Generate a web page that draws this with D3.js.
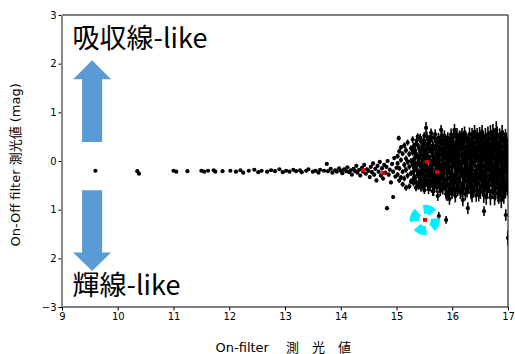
<!DOCTYPE html>
<html>
<head>
<meta charset="utf-8">
<script src="https://cdn.jsdelivr.net/npm/d3@7"></script>
<style>
  body { margin: 0; background: #fff; }
  .tick text { font-family: "DejaVu Sans", sans-serif; font-size: 10px; fill: #000; }
</style>
</head>
<body>
<div id="chart"></div>
<script>
// axis ticks
const xTicks = [9, 10, 11, 12, 13, 14, 15, 16, 17];
const yTicks = [-3, -2, -1, 0, 1, 2, 3];
const yTickLabels = ["\u22123", "2", "1", "0", "1", "2", "3"];

// [on-filter mag, on-off diff, error]
const brightStars = [
  [9.60, -0.20, 0.01], [10.35, -0.21, 0.01], [10.38, -0.26, 0.01], [11.00, -0.20, 0.01],
  [11.05, -0.22, 0.01], [11.25, -0.21, 0.01], [11.50, -0.20, 0.01], [11.55, -0.22, 0.01],
  [11.62, -0.20, 0.01], [11.72, -0.19, 0.01], [11.75, -0.22, 0.01], [11.88, -0.21, 0.01],
  [12.02, -0.20, 0.01], [12.12, -0.22, 0.01], [12.20, -0.19, 0.01], [12.25, -0.24, 0.01],
  [12.35, -0.20, 0.01], [12.45, -0.18, 0.01], [12.52, -0.23, 0.01], [12.58, -0.20, 0.01],
  [12.68, -0.22, 0.01], [12.75, -0.19, 0.01], [12.82, -0.21, 0.01], [12.90, -0.17, 0.01],
  [12.96, -0.23, 0.01]
];

const midStars = [
  [13.02, -0.20, 0.02], [13.08, -0.22, 0.02], [13.15, -0.18, 0.02], [13.20, -0.21, 0.02],
  [13.27, -0.19, 0.02], [13.30, -0.23, 0.02], [13.38, -0.20, 0.02], [13.42, -0.17, 0.02],
  [13.50, -0.22, 0.02], [13.55, -0.20, 0.02], [13.60, -0.24, 0.02], [13.63, -0.18, 0.02],
  [13.70, -0.20, 0.02], [13.75, -0.06, 0.02], [13.77, -0.21, 0.02], [13.82, -0.16, 0.02],
  [13.85, -0.24, 0.02], [13.90, -0.19, 0.02], [13.93, -0.22, 0.02], [13.97, -0.15, 0.02],
  [14.00, -0.20, 0.03], [14.03, -0.25, 0.03], [14.06, -0.17, 0.03], [14.10, -0.21, 0.03],
  [14.12, -0.13, 0.03], [14.15, -0.23, 0.03], [14.18, -0.19, 0.03], [14.20, -0.28, 0.03],
  [14.23, -0.16, 0.03], [14.26, -0.21, 0.03], [14.28, -0.10, 0.03], [14.30, -0.24, 0.03],
  [14.33, -0.18, 0.03], [14.35, -0.30, 0.03], [14.38, -0.14, 0.03], [14.40, -0.22, 0.03],
  [14.42, -0.08, 0.03], [14.45, -0.26, 0.03], [14.47, -0.17, 0.03], [14.50, -0.20, 0.04],
  [14.52, -0.33, 0.04], [14.54, -0.12, 0.04], [14.56, -0.23, 0.04], [14.58, -0.05, 0.04],
  [14.60, -0.28, 0.04], [14.62, -0.16, 0.04], [14.64, -0.40, 0.04], [14.66, -0.10, 0.04],
  [14.68, -0.22, 0.04], [14.70, -0.02, 0.04], [14.72, -0.30, 0.04], [14.74, -0.15, 0.04],
  [14.76, -0.36, 0.04], [14.78, -0.08, 0.04], [14.80, -0.24, 0.04], [14.82, -0.12, 0.04],
  [14.83, -0.97, 0.04], [14.84, 0.00, 0.04], [14.86, -0.28, 0.04], [14.88, -0.18, 0.04],
  [14.90, -0.44, 0.04], [14.92, -0.06, 0.04], [14.94, -0.22, 0.04], [14.94, -0.74, 0.04],
  [14.96, 0.06, 0.04], [14.98, -0.32, 0.04], [15.00, -0.14, 0.04]
];

const faintStars = [
  [15.02, 0.10, 0.05], [15.02, -0.28, 0.05], [15.02, -0.05, 0.05], [15.04, 0.47, 0.05],
  [15.05, 0.20, 0.05], [15.05, -0.15, 0.05], [15.05, -0.40, 0.05],
  [15.08, 0.02, 0.05], [15.08, -0.34, 0.05], [15.08, 0.28, 0.05],
  [15.11, 0.15, 0.05], [15.11, -0.22, 0.05], [15.11, -0.48, 0.05],
  [15.14, -0.08, 0.06], [15.14, 0.32, 0.06], [15.14, -0.36, 0.06],
  [15.17, 0.05, 0.06], [15.17, -0.18, 0.06], [15.17, 0.22, 0.06], [15.17, -0.55, 0.06],
  [15.20, 0.38, 0.06], [15.20, -0.30, 0.06], [15.20, -0.02, 0.06],
  [15.23, -0.12, 0.06], [15.23, 0.14, 0.06], [15.23, -0.52, 0.06],
  [15.26, 0.26, 0.06], [15.26, -0.25, 0.06], [15.26, 0.00, 0.06], [15.26, -0.42, 0.06],
  [15.29, 0.44, 0.07], [15.29, -0.08, 0.07], [15.29, -0.40, 0.07], [15.29, 0.18, 0.07],
  [15.32, 0.18, 0.07], [15.32, -0.32, 0.07], [15.32, 0.05, 0.07], [15.32, -0.15, 0.07],
  [15.35, 0.35, 0.07], [15.35, -0.15, 0.07], [15.35, -0.55, 0.07], [15.35, 0.10, 0.07],
  [15.38, 0.08, 0.07], [15.38, -0.28, 0.07], [15.38, 0.50, 0.07], [15.38, -0.05, 0.07],
  [15.41, 0.25, 0.08], [15.41, -0.05, 0.08], [15.41, -0.45, 0.08], [15.41, 0.05, 0.08], [15.41, -0.25, 0.08],
  [15.44, 0.40, 0.08], [15.44, -0.20, 0.08], [15.44, 0.12, 0.08], [15.44, -0.55, 0.08],
  [15.47, 0.02, 0.08], [15.47, -0.38, 0.08], [15.47, 0.30, 0.08], [15.47, -0.15, 0.08],
  [15.50, 0.52, 0.08], [15.50, -0.12, 0.08], [15.50, -0.60, 0.08], [15.50, 0.20, 0.08], [15.50, -0.35, 0.08],
  [15.53, 0.68, 0.12], [15.53, 0.18, 0.09], [15.53, -0.30, 0.09], [15.53, -0.05, 0.09],
  [15.56, 0.10, 0.09], [15.56, -0.50, 0.09], [15.56, 0.35, 0.09], [15.56, -0.20, 0.09],
  [15.59, 0.45, 0.09], [15.59, -0.18, 0.09], [15.59, -0.02, 0.09], [15.59, -0.42, 0.09], [15.59, 0.25, 0.09],
  [15.62, 0.22, 0.09], [15.62, -0.40, 0.09], [15.62, 0.58, 0.09], [15.62, -0.10, 0.09],
  [15.65, -0.08, 0.10], [15.65, 0.32, 0.10], [15.65, -0.62, 0.10], [15.65, 0.10, 0.10], [15.65, -0.30, 0.10],
  [15.68, 0.48, 0.10], [15.68, 0.05, 0.10], [15.68, -0.28, 0.10], [15.68, -0.50, 0.10],
  [15.71, 0.15, 0.10], [15.71, -0.45, 0.10], [15.71, 0.40, 0.10], [15.71, -0.15, 0.10],
  [15.74, 0.38, 0.10], [15.74, -0.15, 0.10], [15.74, -0.72, 0.10], [15.74, 0.12, 0.10], [15.74, -0.35, 0.10],
  [15.76, -1.13, 0.08],
  [15.77, 0.02, 0.10], [15.77, 0.25, 0.10], [15.77, -0.50, 0.10], [15.77, -0.25, 0.10],
  [15.80, 0.64, 0.10], [15.80, -0.30, 0.10], [15.80, 0.12, 0.10], [15.80, -0.08, 0.10], [15.80, 0.35, 0.10],
  [15.83, 0.42, 0.11], [15.83, -0.08, 0.11], [15.83, -0.58, 0.11], [15.83, 0.18, 0.11], [15.83, -0.30, 0.11],
  [15.86, 0.20, 0.11], [15.86, -0.40, 0.11], [15.86, 0.52, 0.11], [15.86, -0.15, 0.11],
  [15.89, -0.15, 0.11], [15.89, 0.35, 0.11], [15.89, -0.68, 0.11], [15.89, -1.21, 0.08], [15.89, 0.05, 0.11], [15.89, -0.40, 0.11],
  [15.92, 0.10, 0.11], [15.92, 0.48, 0.11], [15.92, -0.35, 0.11], [15.92, -0.10, 0.11], [15.92, 0.28, 0.11],
  [15.95, 0.28, 0.12], [15.95, -0.22, 0.12], [15.95, -0.78, 0.12], [15.95, 0.02, 0.12], [15.95, -0.48, 0.12],
  [15.98, 0.55, 0.12], [15.98, 0.00, 0.12], [15.98, -0.45, 0.12], [15.98, 0.25, 0.12], [15.98, -0.22, 0.12],
  [16.01, 0.18, 0.12], [16.01, -0.30, 0.12], [16.01, 0.40, 0.12], [16.01, -0.05, 0.12], [16.01, -0.55, 0.12],
  [16.04, 0.64, 0.12], [16.04, -0.10, 0.12], [16.04, -0.60, 0.12], [16.04, 0.20, 0.12], [16.04, -0.35, 0.12],
  [16.07, 0.35, 0.12], [16.07, -0.45, 0.12], [16.07, 0.08, 0.12], [16.07, -0.18, 0.12], [16.07, 0.50, 0.12],
  [16.10, -0.60, 0.12], [16.10, 0.22, 0.12], [16.10, -0.20, 0.12], [16.10, 0.00, 0.12], [16.10, 0.42, 0.12],
  [16.13, 0.50, 0.13], [16.13, -0.05, 0.13], [16.13, -0.38, 0.13], [16.13, 0.25, 0.13],
  [16.16, 0.30, 0.13], [16.16, -0.55, 0.13], [16.16, 0.12, 0.13], [16.16, -0.22, 0.13], [16.16, 0.48, 0.13],
  [16.19, -0.80, 0.13], [16.19, 0.42, 0.13], [16.19, -0.25, 0.13], [16.19, 0.05, 0.13], [16.19, -0.45, 0.13],
  [16.22, 0.58, 0.13], [16.22, 0.00, 0.13], [16.22, -0.42, 0.13], [16.22, 0.28, 0.13], [16.22, -0.18, 0.13],
  [16.25, 0.20, 0.13], [16.25, -0.30, 0.13], [16.25, 0.45, 0.13], [16.25, -0.05, 0.13], [16.25, -0.58, 0.13],
  [16.28, -0.97, 0.12], [16.28, 0.08, 0.13], [16.28, -0.50, 0.13], [16.28, 0.32, 0.13], [16.28, -0.20, 0.13],
  [16.31, 0.35, 0.14], [16.31, -0.15, 0.14], [16.31, 0.55, 0.14], [16.31, -0.40, 0.14], [16.31, 0.10, 0.14],
  [16.34, -0.65, 0.14], [16.34, 0.15, 0.14], [16.34, -0.35, 0.14], [16.34, 0.40, 0.14], [16.34, -0.08, 0.14],
  [16.37, 0.48, 0.14], [16.37, -0.05, 0.14], [16.37, -0.55, 0.14], [16.37, 0.22, 0.14], [16.37, -0.28, 0.14],
  [16.40, 0.25, 0.14], [16.40, -0.30, 0.14], [16.40, 0.60, 0.14], [16.40, 0.00, 0.14], [16.40, -0.50, 0.14],
  [16.43, -0.70, 0.14], [16.43, 0.10, 0.14], [16.43, -0.20, 0.14], [16.43, 0.38, 0.14], [16.43, -0.42, 0.14],
  [16.46, 0.40, 0.15], [16.46, -0.45, 0.15], [16.46, 0.02, 0.15], [16.46, 0.22, 0.15], [16.46, -0.22, 0.15],
  [16.49, 0.55, 0.15], [16.49, -0.25, 0.15], [16.49, -0.60, 0.15], [16.49, 0.10, 0.15], [16.49, 0.32, 0.15],
  [16.52, 0.18, 0.15], [16.52, -0.40, 0.15], [16.52, 0.32, 0.15], [16.52, -0.12, 0.15], [16.52, 0.50, 0.15],
  [16.55, 0.48, 0.15], [16.55, -0.10, 0.15], [16.55, -0.35, 0.15], [16.55, 0.25, 0.15],
  [16.57, -1.03, 0.10],
  [16.58, 0.28, 0.15], [16.58, -0.55, 0.15], [16.58, 0.05, 0.15], [16.58, -0.25, 0.15],
  [16.61, 0.42, 0.15], [16.61, -0.30, 0.15], [16.61, -0.75, 0.15], [16.61, 0.15, 0.15], [16.61, -0.05, 0.15],
  [16.64, 0.12, 0.16], [16.64, 0.55, 0.16], [16.64, -0.45, 0.16], [16.64, -0.18, 0.16], [16.64, 0.32, 0.16],
  [16.67, -0.18, 0.16], [16.67, 0.35, 0.16], [16.67, -0.62, 0.16], [16.67, 0.05, 0.16], [16.67, -0.38, 0.16],
  [16.70, 0.48, 0.16], [16.70, 0.00, 0.16], [16.70, -0.38, 0.16], [16.70, 0.22, 0.16], [16.70, -0.20, 0.16],
  [16.73, 0.22, 0.16], [16.73, -0.50, 0.16], [16.73, 0.60, 0.16], [16.73, -0.10, 0.16], [16.73, 0.40, 0.16],
  [16.76, -0.75, 0.16], [16.76, 0.30, 0.16], [16.76, -0.15, 0.16], [16.76, 0.08, 0.16], [16.76, -0.40, 0.16],
  [16.79, 0.64, 0.18], [16.79, 0.05, 0.17], [16.79, -0.42, 0.17], [16.79, 0.28, 0.17], [16.79, -0.20, 0.17],
  [16.82, 0.38, 0.17], [16.82, -0.25, 0.17], [16.82, -0.68, 0.17], [16.82, 0.12, 0.17], [16.82, -0.02, 0.17],
  [16.85, 0.15, 0.17], [16.85, -0.55, 0.17], [16.85, 0.50, 0.17], [16.85, -0.30, 0.17], [16.85, 0.30, 0.17],
  [16.88, -0.80, 0.17], [16.88, 0.28, 0.17], [16.88, -0.08, 0.17], [16.88, -0.40, 0.17], [16.88, 0.45, 0.17],
  [16.91, 0.45, 0.18], [16.91, -0.35, 0.18], [16.91, 0.10, 0.18], [16.91, -0.15, 0.18], [16.91, -0.60, 0.18],
  [16.94, -0.60, 0.18], [16.94, 0.20, 0.18], [16.94, -0.20, 0.18], [16.94, 0.40, 0.18], [16.94, 0.00, 0.18],
  [16.96, -1.11, 0.12],
  [16.97, 0.40, 0.18], [16.97, -0.45, 0.18], [16.97, 0.10, 0.18], [16.97, -0.22, 0.18],
  [17.00, -1.58, 0.15], [17.00, 0.10, 0.18], [17.00, -0.30, 0.18]
];

// the crowded faint core, read between the columns above
const coreStars = [
  [15.305, 0.30, 0.07], [15.305, 0.00, 0.07], [15.305, -0.22, 0.07], [15.305, -0.45, 0.07],
  [15.335, 0.22, 0.07], [15.335, -0.05, 0.07], [15.335, -0.35, 0.07],
  [15.365, 0.42, 0.07], [15.365, 0.12, 0.07], [15.365, -0.18, 0.07], [15.365, -0.45, 0.07],
  [15.395, 0.30, 0.07], [15.395, 0.00, 0.07], [15.395, -0.30, 0.07], [15.395, -0.52, 0.07],
  [15.425, 0.48, 0.08], [15.425, 0.18, 0.08], [15.425, -0.10, 0.08], [15.425, -0.38, 0.08],
  [15.455, 0.25, 0.08], [15.455, -0.05, 0.08], [15.455, -0.28, 0.08], [15.455, -0.48, 0.08],
  [15.485, 0.42, 0.08], [15.485, 0.12, 0.08], [15.485, -0.22, 0.08], [15.485, -0.50, 0.08],
  [15.515, 0.35, 0.10], [15.515, 0.05, 0.10], [15.515, -0.20, 0.10], [15.515, -0.45, 0.10],
  [15.545, 0.50, 0.10], [15.545, 0.22, 0.10], [15.545, -0.12, 0.10], [15.545, -0.40, 0.10],
  [15.575, 0.30, 0.10], [15.575, 0.08, 0.10], [15.575, -0.30, 0.10], [15.575, -0.58, 0.10],
  [15.605, 0.42, 0.10], [15.605, 0.02, 0.10], [15.605, -0.25, 0.10], [15.605, -0.52, 0.10],
  [15.635, 0.48, 0.10], [15.635, 0.18, 0.10], [15.635, -0.18, 0.10], [15.635, -0.45, 0.10],
  [15.665, 0.28, 0.10], [15.665, -0.02, 0.10], [15.665, -0.40, 0.10], [15.665, -0.62, 0.10],
  [15.695, 0.55, 0.10], [15.695, 0.25, 0.10], [15.695, -0.05, 0.10], [15.695, -0.35, 0.10],
  [15.725, 0.30, 0.10], [15.725, 0.00, 0.10], [15.725, -0.28, 0.10], [15.725, -0.55, 0.10],
  [15.755, 0.48, 0.10], [15.755, 0.15, 0.10], [15.755, -0.10, 0.10], [15.755, -0.40, 0.10],
  [15.785, 0.40, 0.10], [15.785, -0.15, 0.10], [15.785, -0.38, 0.10], [15.785, -0.62, 0.10],
  [15.815, 0.52, 0.10], [15.815, 0.22, 0.10], [15.815, -0.18, 0.10], [15.815, -0.48, 0.10],
  [15.845, 0.35, 0.10], [15.845, 0.05, 0.10], [15.845, -0.25, 0.10], [15.845, -0.50, 0.10],
  [15.875, 0.45, 0.10], [15.875, 0.18, 0.10], [15.875, -0.05, 0.10], [15.875, -0.55, 0.10],
  [15.905, 0.30, 0.10], [15.905, -0.25, 0.10], [15.905, -0.50, 0.10], [15.905, -0.72, 0.10],
  [15.935, 0.40, 0.10], [15.935, 0.15, 0.10], [15.935, -0.10, 0.10], [15.935, -0.62, 0.10],
  [15.965, 0.45, 0.10], [15.965, 0.12, 0.10], [15.965, -0.35, 0.10], [15.965, -0.60, 0.10],
  [15.995, 0.35, 0.10], [15.995, -0.12, 0.10], [15.995, -0.35, 0.10], [15.995, -0.68, 0.10],
  [16.025, 0.50, 0.13], [16.025, 0.30, 0.13], [16.025, 0.05, 0.13], [16.025, -0.45, 0.13],
  [16.055, 0.25, 0.13], [16.055, -0.05, 0.13], [16.055, -0.28, 0.13], [16.055, -0.72, 0.13],
  [16.085, 0.55, 0.13], [16.085, 0.20, 0.13], [16.085, -0.35, 0.13], [16.085, -0.55, 0.13],
  [16.115, 0.35, 0.13], [16.115, 0.10, 0.13], [16.115, -0.15, 0.13], [16.115, -0.48, 0.13],
  [16.145, 0.40, 0.13], [16.145, -0.10, 0.13], [16.145, -0.32, 0.13], [16.145, -0.65, 0.13],
  [16.175, 0.55, 0.13], [16.175, 0.25, 0.13], [16.175, -0.05, 0.13], [16.175, -0.62, 0.13],
  [16.205, 0.38, 0.13], [16.205, 0.15, 0.13], [16.205, -0.32, 0.13], [16.205, -0.55, 0.13],
  [16.235, 0.50, 0.13], [16.235, 0.10, 0.13], [16.235, -0.12, 0.13], [16.235, -0.68, 0.13],
  [16.265, 0.40, 0.13], [16.265, -0.08, 0.13], [16.265, -0.35, 0.13], [16.265, -0.62, 0.13],
  [16.295, 0.45, 0.13], [16.295, 0.20, 0.13], [16.295, -0.30, 0.13], [16.295, -0.55, 0.13],
  [16.325, 0.30, 0.13], [16.325, 0.02, 0.13], [16.325, -0.22, 0.13], [16.325, -0.50, 0.13],
  [16.355, 0.55, 0.13], [16.355, 0.30, 0.13], [16.355, -0.18, 0.13], [16.355, -0.72, 0.13],
  [16.385, 0.38, 0.13], [16.385, 0.08, 0.13], [16.385, -0.40, 0.13], [16.385, -0.62, 0.13],
  [16.415, 0.48, 0.13], [16.415, 0.15, 0.13], [16.415, -0.10, 0.13], [16.415, -0.35, 0.13],
  [16.445, 0.55, 0.13], [16.445, 0.30, 0.13], [16.445, -0.30, 0.13], [16.445, -0.60, 0.13],
  [16.475, 0.45, 0.13], [16.475, -0.10, 0.13], [16.475, -0.35, 0.13], [16.475, -0.70, 0.13],
  [16.505, 0.40, 0.16], [16.505, 0.05, 0.16], [16.505, -0.25, 0.16], [16.505, -0.62, 0.16],
  [16.535, 0.58, 0.16], [16.535, 0.08, 0.16], [16.535, -0.20, 0.16], [16.535, -0.52, 0.16],
  [16.565, 0.38, 0.16], [16.565, 0.15, 0.16], [16.565, -0.45, 0.16], [16.565, -0.70, 0.16],
  [16.595, 0.52, 0.16], [16.595, 0.22, 0.16], [16.595, -0.12, 0.16], [16.595, -0.42, 0.16],
  [16.625, 0.30, 0.16], [16.625, 0.00, 0.16], [16.625, -0.55, 0.16], [16.625, -0.60, 0.16],
  [16.655, 0.45, 0.16], [16.655, 0.20, 0.16], [16.655, -0.05, 0.16], [16.655, -0.50, 0.16],
  [16.685, 0.58, 0.16], [16.685, 0.15, 0.16], [16.685, -0.28, 0.16], [16.685, -0.75, 0.16],
  [16.715, 0.32, 0.16], [16.715, 0.10, 0.16], [16.715, -0.30, 0.16], [16.715, -0.62, 0.16],
  [16.745, 0.52, 0.16], [16.745, 0.18, 0.16], [16.745, -0.25, 0.16], [16.745, -0.55, 0.16],
  [16.775, 0.45, 0.16], [16.775, -0.05, 0.16], [16.775, -0.30, 0.16], [16.775, -0.65, 0.16],
  [16.805, 0.55, 0.16], [16.805, 0.22, 0.16], [16.805, -0.12, 0.16], [16.805, -0.45, 0.16],
  [16.835, 0.25, 0.16], [16.835, 0.00, 0.16], [16.835, -0.40, 0.16], [16.835, -0.72, 0.16],
  [16.865, 0.40, 0.16], [16.865, 0.15, 0.16], [16.865, -0.18, 0.16], [16.865, -0.62, 0.16],
  [16.895, 0.58, 0.16], [16.895, 0.05, 0.16], [16.895, -0.25, 0.16], [16.895, -0.50, 0.16],
  [16.925, 0.30, 0.16], [16.925, -0.05, 0.16], [16.925, -0.40, 0.16], [16.925, -0.72, 0.16],
  [16.955, 0.50, 0.16], [16.955, 0.25, 0.16], [16.955, -0.10, 0.16], [16.955, -0.60, 0.16],
  [16.985, 0.30, 0.16], [16.985, 0.00, 0.16], [16.985, -0.15, 0.16], [16.985, -0.55, 0.16]
];

// highlighted sources (red) and the target with the cyan marker
const redStars = [[14.40, -0.19], [14.76, -0.25], [15.55, -0.02], [15.73, -0.23], [15.51, -1.21]];
const target = [15.51, -1.21];

// annotation arrows, in data units: [x centre, tail y, head base y, tip y]
const upArrow = [9.54, 0.39, 1.68, 2.07];
const downArrow = [9.54, -0.60, -1.88, -2.26];

const margin = {top: 15, right: 7, bottom: 47, left: 62};
const W = 515, H = 354;
const width = W - margin.left - margin.right;
const height = H - margin.top - margin.bottom;

const x = d3.scaleLinear().domain([9, 17]).range([0, width]);
const y = d3.scaleLinear().domain([-3, 3]).range([height, 0]);

const svg = d3.select('#chart').append('svg')
  .attr('width', W).attr('height', H);

const g = svg.append('g')
  .attr('transform', 'translate(' + margin.left + ',' + margin.top + ')');

svg.append('defs').append('clipPath').attr('id', 'clip')
  .append('rect').attr('width', width).attr('height', height);

// axes
const xAxis = d3.axisBottom(x).tickValues(xTicks).tickSizeInner(3.5).tickSizeOuter(0).tickPadding(2);
const yAxis = d3.axisLeft(y).tickValues(yTicks).tickSizeInner(3.5).tickSizeOuter(0).tickPadding(2)
  .tickFormat((d, i) => yTickLabels[i]);

g.append('g').attr('transform', 'translate(0,' + height + ')').call(xAxis)
  .call(a => a.select('.domain').remove());
g.append('g').call(yAxis)
  .call(a => a.select('.domain').remove());

// spines
g.append('line').attr('x1', 0).attr('x2', width).attr('y1', 0).attr('y2', 0).attr('stroke', '#000').attr('stroke-width', 1);
g.append('line').attr('x1', 0).attr('x2', width).attr('y1', height).attr('y2', height).attr('stroke', '#000').attr('stroke-width', 1);
g.append('line').attr('x1', width).attr('x2', width).attr('y1', 0).attr('y2', height).attr('stroke', '#000').attr('stroke-width', 1);
g.append('line').attr('x1', 0).attr('x2', 0).attr('y1', 0).attr('y2', height).attr('stroke', '#888').attr('stroke-width', 2);

// arrows
function arrowPath(a) {
  const cx = x(a[0]), halfShaft = x(9.72) - x(9.54), halfHead = x(9.88) - x(9.54);
  return 'M' + (cx - halfShaft) + ',' + y(a[1]) +
    'L' + (cx - halfShaft) + ',' + y(a[2]) +
    'L' + (cx - halfHead) + ',' + y(a[2]) +
    'L' + cx + ',' + y(a[3]) +
    'L' + (cx + halfHead) + ',' + y(a[2]) +
    'L' + (cx + halfShaft) + ',' + y(a[2]) +
    'L' + (cx + halfShaft) + ',' + y(a[1]) + 'Z';
}
g.append('path').attr('d', arrowPath(upArrow)).attr('fill', '#5b9bd5');
g.append('path').attr('d', arrowPath(downArrow)).attr('fill', '#5b9bd5');

// annotation texts
g.append('text').attr('x', x(9.19)).attr('y', y(2.32))
  .style('font-family', '"Noto Sans CJK JP", sans-serif').style('font-size', '27px')
  .text('吸収線-like');
g.append('text').attr('x', x(9.19)).attr('y', y(-2.76))
  .style('font-family', '"Noto Sans CJK JP", sans-serif').style('font-size', '27px')
  .text('輝線-like');

// data
const plot = g.append('g').attr('clip-path', 'url(#clip)');
const allStars = brightStars.concat(midStars, faintStars, coreStars);

plot.selectAll('line.err').data(allStars).enter().append('line')
  .attr('class', 'err')
  .attr('x1', d => x(d[0])).attr('x2', d => x(d[0]))
  .attr('y1', d => y(d[1] + d[2])).attr('y2', d => y(d[1] - d[2]))
  .attr('stroke', '#000').attr('stroke-width', 1.6);

plot.selectAll('circle.star').data(allStars).enter().append('circle')
  .attr('class', 'star')
  .attr('cx', d => x(d[0])).attr('cy', d => y(d[1]))
  .attr('r', 2.1).attr('fill', '#000');

// cyan marker around target
const wedge = d3.arc().innerRadius(6).outerRadius(15);
const wedgeCentres = [20, 110, 200, 290];
plot.selectAll('path.wedge').data(wedgeCentres).enter().append('path')
  .attr('class', 'wedge')
  .attr('transform', 'translate(' + x(target[0]) + ',' + y(target[1]) + ')')
  .attr('d', d => wedge({startAngle: (d - 28) * Math.PI / 180, endAngle: (d + 28) * Math.PI / 180}))
  .attr('fill', '#00f0ff');

plot.selectAll('rect.red').data(redStars).enter().append('rect')
  .attr('class', 'red')
  .attr('x', d => x(d[0]) - 2).attr('y', d => y(d[1]) - 2)
  .attr('width', 4).attr('height', 4).attr('fill', '#e00000');

// axis labels
svg.append('text')
  .attr('transform', 'translate(20,' + (margin.top + y(-0.08)) + ') rotate(-90)')
  .attr('text-anchor', 'middle')
  .style('font-family', '"DejaVu Sans", "Noto Sans CJK JP", sans-serif').style('font-size', '13px')
  .text('On-Off filter 測光値 (mag)');

svg.append('text')
  .attr('x', margin.left + x(12.97)).attr('y', 352)
  .attr('text-anchor', 'middle')
  .style('font-family', '"DejaVu Sans", "Noto Sans CJK JP", sans-serif').style('font-size', '13px')
  .style('white-space', 'pre')
  .text('On-filter　 測　光　値');
</script>
</body>
</html>
